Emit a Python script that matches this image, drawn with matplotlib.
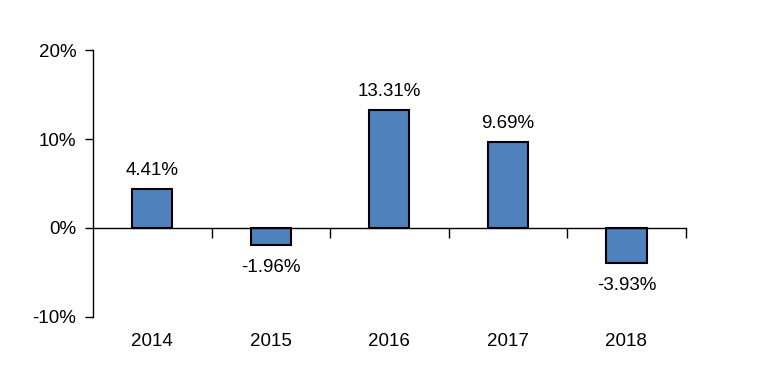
import matplotlib
matplotlib.use("Agg")
import matplotlib.pyplot as plt
import matplotlib.transforms as mtransforms
import numpy as np

YEARS = ["2014", "2015", "2016", "2017", "2018"]
RETURNS = [4.41, -1.96, 13.31, 9.69, -3.93]
Y_TICKS = [-10, 0, 10, 20]

plt.rcParams.update({
    "font.family": ["Liberation Sans", "DejaVu Sans"],
    "font.size": 13.5,
    "axes.linewidth": 1.0,
})

fig = plt.figure(figsize=(7.84, 3.8), dpi=100)
ax = fig.add_axes([0.1186, 0.1658, 0.756, 0.7026])

x = np.arange(len(YEARS))
ax.bar(x, RETURNS, width=0.34, color="#4F81BD", edgecolor="black",
       linewidth=1.5, zorder=3)

ax.set_xlim(-0.5, len(YEARS) - 0.5)
ax.set_ylim(-10, 20)
ax.set_yticks(Y_TICKS)
ax.set_yticklabels([f"{v}%" for v in Y_TICKS])
ax.tick_params(axis="y", direction="out", length=6, width=1.0, pad=6)

# x axis drawn along zero, tick marks between categories
ax.spines["top"].set_visible(False)
ax.spines["right"].set_visible(False)
ax.spines["bottom"].set_position(("data", 0))
ax.spines["bottom"].set_zorder(4)
ax.set_xticks(x + 0.5)
ax.set_xticklabels([])
ax.tick_params(axis="x", direction="out", length=7, width=1.0)

trans = mtransforms.blended_transform_factory(ax.transData, ax.transAxes)
for xi, year in zip(x, YEARS):
    ax.text(xi, -0.09, year, transform=trans, ha="center", va="center")

for xi, val in zip(x, RETURNS):
    offset = 13 if val >= 0 else -16
    ax.annotate(f"{val:.2f}%", (xi, val), xytext=(0, offset),
                textcoords="offset points", ha="center", va="center")

fig.savefig("out.png", dpi=100)
